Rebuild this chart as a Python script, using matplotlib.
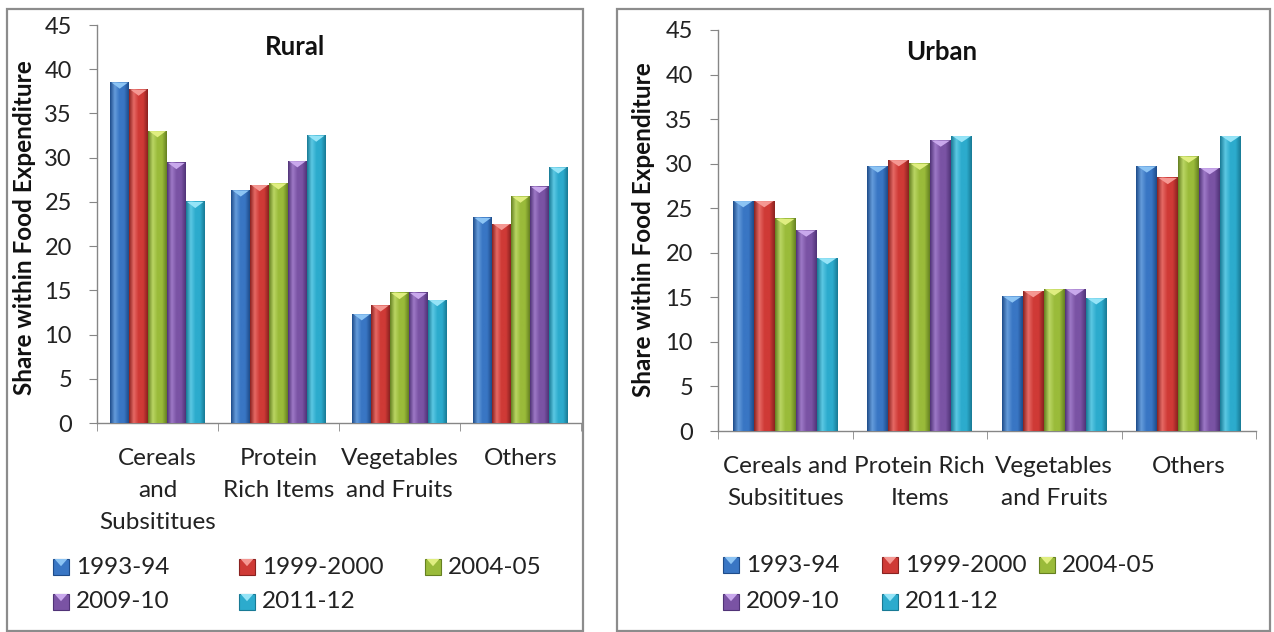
import matplotlib
matplotlib.use('Agg')
import matplotlib.pyplot as plt
from matplotlib.patches import Rectangle, Polygon
from matplotlib.colors import LinearSegmentedColormap
import numpy as np

plt.rcParams['font.family'] = ['Lato', 'DejaVu Sans']

W, H = 1274, 632

YEARS = ['1993-94', '1999-2000', '2004-05', '2009-10', '2011-12']
RURAL_CATS = ['Cereals\nand\nSubsititues', 'Protein\nRich Items', 'Vegetables\nand Fruits', 'Others']
URBAN_CATS = ['Cereals and\nSubsititues', 'Protein Rich\nItems', 'Vegetables\nand Fruits', 'Others']

# share within food expenditure, one list per survey round (cereals, protein, veg, others)
rural_1993_94 = [38.5, 26.3, 12.3, 23.2]
rural_1999_00 = [37.7, 26.9, 13.3, 22.5]
rural_2004_05 = [33.0, 27.1, 14.7, 25.6]
rural_2009_10 = [29.4, 29.6, 14.7, 26.7]
rural_2011_12 = [25.0, 32.5, 13.9, 28.9]

urban_1993_94 = [25.8, 29.7, 15.1, 29.7]
urban_1999_00 = [25.8, 30.4, 15.7, 28.4]
urban_2004_05 = [23.8, 30.0, 15.9, 30.8]
urban_2009_10 = [22.5, 32.6, 15.9, 29.5]
urban_2011_12 = [19.4, 33.1, 14.9, 33.1]

RURAL = [rural_1993_94, rural_1999_00, rural_2004_05, rural_2009_10, rural_2011_12]
URBAN = [urban_1993_94, urban_1999_00, urban_2004_05, urban_2009_10, urban_2011_12]

# base, dark edge, highlight, top bevel
COLORS = [
    ('#3976C4', '#1E4C8A', '#659CDB', '#8CC4F4'),
    ('#CF3A36', '#8A2220', '#E66A65', '#F59893'),
    ('#9ABB3A', '#658021', '#BAD564', '#E0EE80'),
    ('#7A53A4', '#503377', '#9E79C7', '#C9A8EC'),
    ('#2CABCD', '#187A95', '#5CC8E3', '#95E4F7'),
]
SPINE = '#868686'
TEXT = '#222222'


def fig_rect(x0, y0, x1, y1):
    # pixel box (top-left origin) -> figure fraction (l, b, w, h)
    return (x0 / W, 1 - y1 / H, (x1 - x0) / W, (y1 - y0) / H)


def draw_panel(ax, cats, values, title, title_x, tri_h):
    x = np.arange(len(cats))
    width = 0.156
    grad = np.linspace(0, 1, 64).reshape(1, -1)
    for i, (vals, col) in enumerate(zip(values, COLORS)):
        base, dark, light, top = col
        cmap = LinearSegmentedColormap.from_list('b', [dark, light, base, base, dark])
        bars = ax.bar(x + (i - 2) * width, vals, width, color=base, zorder=2, linewidth=0)
        for b in bars:
            x0, w, h = b.get_x(), b.get_width(), b.get_height()
            ax.imshow(grad, extent=[x0, x0 + w, 0, h], cmap=cmap, aspect='auto', zorder=3)
            ax.add_patch(Polygon([(x0 + w * 0.06, h), (x0 + w * 0.94, h), (x0 + w / 2, h - tri_h)],
                                 closed=True, facecolor=top, edgecolor='none', zorder=4))
    ax.set_xlim(-0.5, len(cats) - 0.5)
    ax.set_ylim(0, 45)
    ax.set_yticks(range(0, 50, 5))
    ax.set_xticks(x)
    ax.set_xticklabels(cats, fontsize=17.5, color=TEXT, linespacing=1.65)
    ax.set_xticks(np.arange(-0.5, len(cats), 1), minor=True)
    ax.tick_params(axis='x', which='major', length=0, pad=18)
    ax.tick_params(axis='x', which='minor', length=6, color=SPINE, direction='out')
    ax.tick_params(axis='y', length=6, color=SPINE, labelsize=17, labelcolor=TEXT, pad=12)
    for s in ['top', 'right']:
        ax.spines[s].set_visible(False)
    for s in ['left', 'bottom']:
        ax.spines[s].set_color(SPINE)
        ax.spines[s].set_linewidth(1.0)
    ax.set_ylabel('Share within Food Expenditure', fontsize=17.5, fontweight='bold', color='#111111')
    ax.text(title_x, 0.945, title, transform=ax.transAxes, ha='center', va='center',
            fontsize=18.5, fontweight='bold', color='#111111')


def draw_legend(fig, x_cols, y_rows):
    k = 0
    s = 16
    for y in y_rows:
        for xc in x_cols:
            if k >= len(YEARS):
                break
            base, dark, light, top = COLORS[k]
            l, b, w, h = fig_rect(xc, y - s / 2, xc + s, y + s / 2)
            fig.add_artist(Rectangle((l, b), w, h, transform=fig.transFigure, facecolor=base,
                                     edgecolor=dark, linewidth=0.8))
            fig.add_artist(Polygon([(l + w * 0.1, b + h), (l + w * 0.9, b + h), (l + w / 2, b + h * 0.55)],
                                   closed=True, transform=fig.transFigure, facecolor=top,
                                   edgecolor='none'))
            fig.text((xc + 23) / W, 1 - y / H, YEARS[k], fontsize=17.5, color=TEXT,
                     ha='left', va='center')
            k += 1


fig = plt.figure(figsize=(W / 100, H / 100), dpi=100)
fig.patch.set_facecolor('white')

# panel frames
for box in [(7, 9, 583, 631), (617, 9, 1270, 631)]:
    l, b, w, h = fig_rect(*box)
    fig.add_artist(Rectangle((l, b), w, h, transform=fig.transFigure, facecolor='none',
                             edgecolor='#8c8c8c', linewidth=1.6))

ax1 = fig.add_axes(fig_rect(97, 25, 581, 423))
draw_panel(ax1, RURAL_CATS, RURAL, 'Rural', 0.41, 0.7)
ax1.yaxis.set_label_coords(-0.126, 0.49)

ax2 = fig.add_axes(fig_rect(718, 30, 1256, 431))
draw_panel(ax2, URBAN_CATS, URBAN, 'Urban', 0.416, 0.7)
ax2.yaxis.set_label_coords(-0.117, 0.501)

draw_legend(fig, [53, 239, 425], [567, 602])
draw_legend(fig, [723, 882, 1039], [565, 602])

fig.savefig('out.png', dpi=100, facecolor='white')
